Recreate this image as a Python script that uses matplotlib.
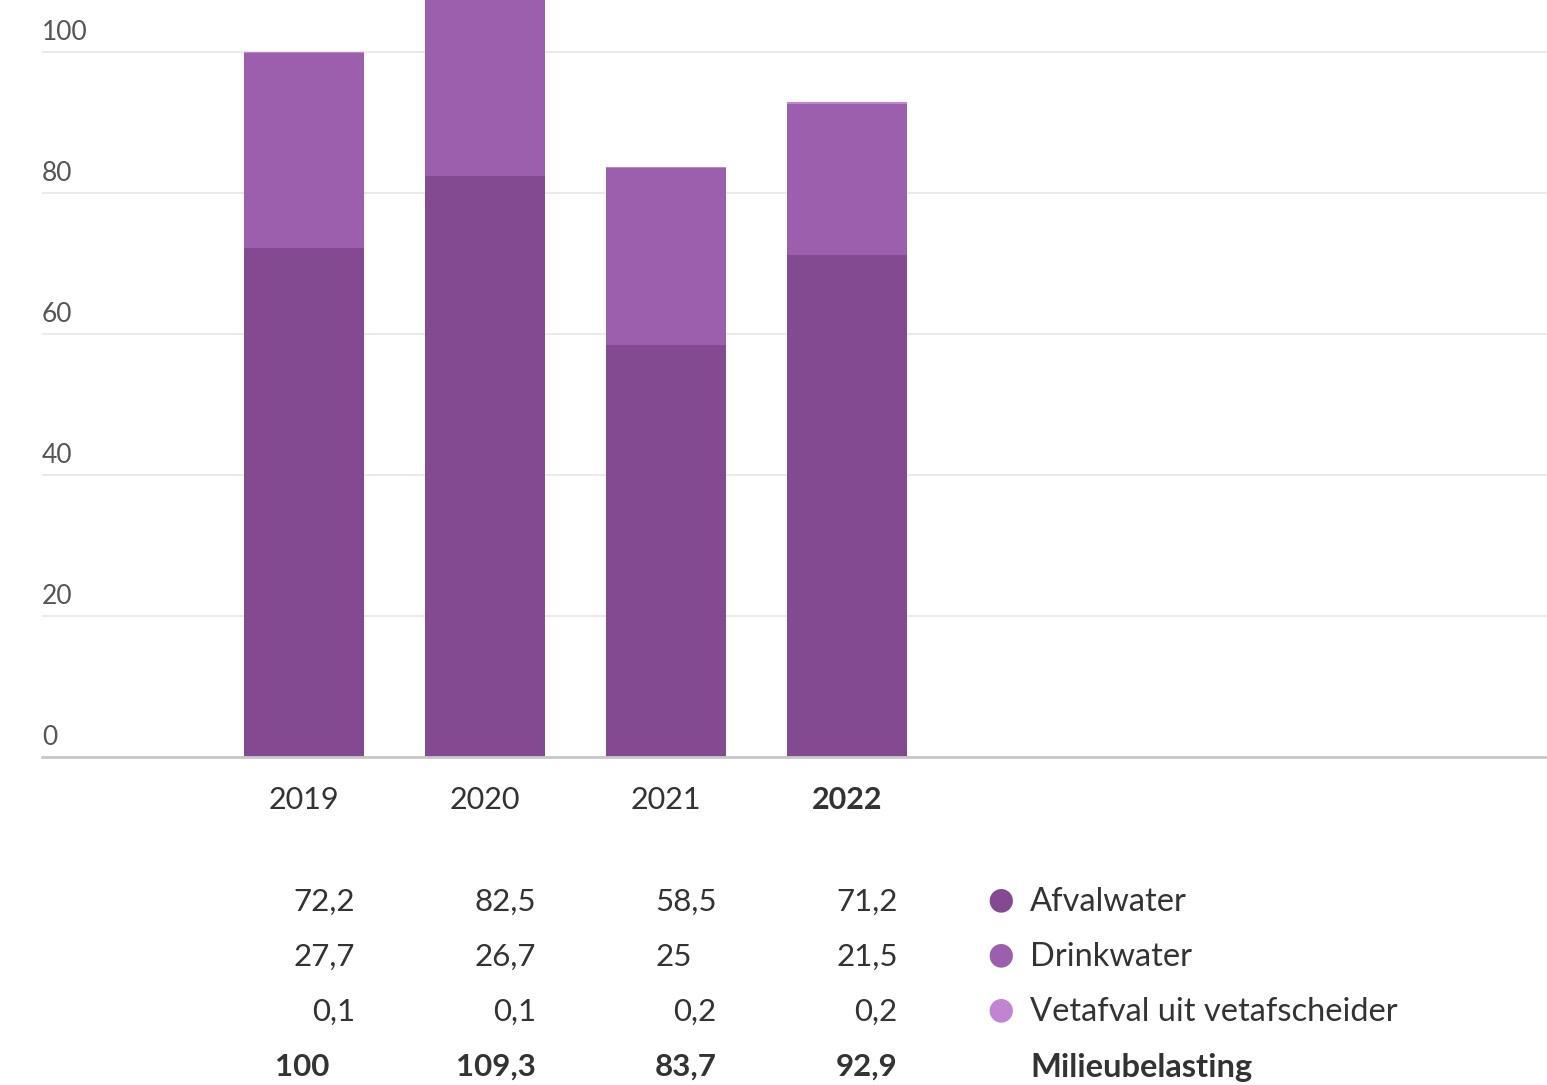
import matplotlib.pyplot as plt
from matplotlib.transforms import blended_transform_factory, offset_copy

# data
years = ['2019', '2020', '2021', '2022']
afvalwater = [72.2, 82.5, 58.5, 71.2]
drinkwater = [27.7, 26.7, 25.0, 21.5]
vetafval = [0.1, 0.1, 0.2, 0.2]
totaal = [100.0, 109.3, 83.7, 92.9]
series_names = ['Afvalwater', 'Drinkwater', 'Vetafval uit vetafscheider']
total_name = 'Milieubelasting'
yticks = [0, 20, 40, 60, 80, 100]

colors = ['#834991', '#9c5fae', '#c184d2']
txt = '#333333'
plt.rcParams['font.family'] = ['Lato', 'DejaVu Sans']

W, H = 1547, 1085
fig = plt.figure(figsize=(W / 100, H / 100), dpi=100)
ax = fig.add_axes([42 / W, 328 / H, 1505 / W, 757 / H])

x = list(range(len(years)))
bottom2 = afvalwater
bottom3 = [a + d for a, d in zip(afvalwater, drinkwater)]
ax.bar(x, afvalwater, width=0.665, color=colors[0], zorder=2)
ax.bar(x, drinkwater, width=0.665, bottom=bottom2, color=colors[1], zorder=2)
ax.bar(x, vetafval, width=0.665, bottom=bottom3, color=colors[2], zorder=2)

ax.set_xlim(-1.448, 6.867)
ax.set_ylim(0, 107.4)
for s in ['top', 'right', 'left']:
    ax.spines[s].set_visible(False)
ax.spines['bottom'].set_color('#c8c8c8')
ax.spines['bottom'].set_linewidth(2)
ax.spines['bottom'].set_zorder(3)

# horizontal grid + labels above the lines
ax.set_yticks(yticks)
ax.yaxis.grid(True, color='#e6e6e6', linewidth=1.2, zorder=0)
ax.tick_params(axis='y', length=0, labelleft=False)
ytr = offset_copy(blended_transform_factory(ax.transAxes, ax.transData), fig=fig, x=0, y=7, units='dots')
for v in yticks:
    ax.text(0, v, str(v), transform=ytr, ha='left', va='bottom', fontsize=19, color='#555555')

ax.set_xticks(x)
ax.set_xticklabels(years, fontsize=22, color=txt)
ax.tick_params(axis='x', length=0, pad=21)
ax.get_xticklabels()[-1].set_fontweight('bold')

# table under the chart
def fmt(v):
    s = f'{v:.1f}'.replace('.', ',')
    return s[:-2] if s.endswith(',0') else s

rows = [afvalwater, drinkwater, vetafval, totaal]
row_y = [902, 957, 1012, 1067]
tr = blended_transform_factory(ax.transData, fig.transFigure)
for r, (vals, py) in enumerate(zip(rows, row_y)):
    weight = 'bold' if r == 3 else 'normal'
    for xi, v in zip(x, vals):
        s = fmt(v)
        if ',' in s:
            ax.text(xi + 0.28, 1 - py / H, s, transform=tr, ha='right', va='center',
                    fontsize=22.5, color=txt, fontweight=weight)
        else:
            # keep integers aligned as if they had a hidden ",0"
            ghost = ax.text(xi + 0.28, 1 - py / H, ',0', transform=tr, ha='right', va='center',
                            fontsize=22.5, color='none', fontweight=weight)
            ax.annotate(s, xy=(0, 0.5), xycoords=ghost, ha='right', va='center',
                        fontsize=22.5, color=txt, fontweight=weight)

# legend
for name, c, py in zip(series_names, colors, row_y):
    fig.text(1001 / W, 1 - (py - 2) / H, '\u25cf', ha='center', va='center', fontsize=22,
             color=c, family='DejaVu Sans')
    fig.text(1030 / W, 1 - py / H, name, ha='left', va='center', fontsize=23.5, color=txt)
fig.text(1030 / W, 1 - row_y[3] / H, total_name, ha='left', va='center', fontsize=23.5,
         color=txt, fontweight='bold')

fig.savefig('out.png', dpi=100)
